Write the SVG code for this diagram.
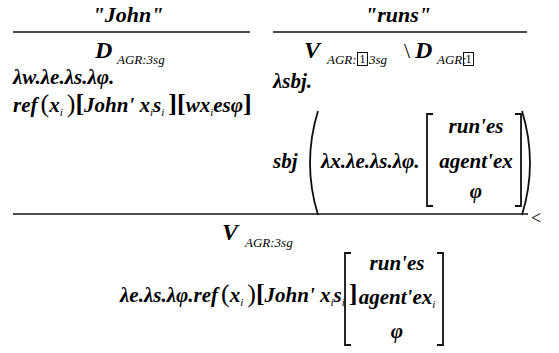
<svg xmlns="http://www.w3.org/2000/svg" width="559" height="353" viewBox="0 0 559 353">
<defs>
<path id="lbrk" d="M6,0 H0 V92 H6" fill="none" stroke="#111" stroke-width="1.8"/>
<path id="rbrk" d="M0,0 H6 V92 H0" fill="none" stroke="#111" stroke-width="1.8"/>
</defs>
<g id="john">
<text font-family="Times New Roman, serif" font-style="italic" font-weight="bold" font-size="22" text-anchor="middle" x="128" y="22">"John"</text>
<text font-family="Times New Roman, serif" font-style="italic" font-weight="bold" font-size="24" x="95" y="58">D</text>
<text font-family="Times New Roman, serif" font-style="italic" font-size="13" x="117" y="64">AGR:3sg</text>
<text font-family="Times New Roman, serif" font-style="italic" font-weight="bold" font-size="21" x="13" y="84">λw.λe.λs.λφ.</text>
<text font-family="Times New Roman, serif" font-style="italic" font-weight="bold" font-size="21" x="13" y="112">ref<tspan dx="3" font-style="normal" font-weight="normal" font-size="26">(</tspan>x<tspan font-size="11" font-weight="normal" dy="4">i</tspan><tspan dy="-4" dx="4" font-style="normal" font-weight="normal" font-size="26">)</tspan><tspan font-style="normal" font-size="26">[</tspan>John' x<tspan font-size="11" font-weight="normal" dy="4">i</tspan><tspan dy="-4">s</tspan><tspan font-size="11" font-weight="normal" dy="4">i</tspan><tspan dy="-4" dx="4" font-style="normal" font-size="26">][</tspan>wx<tspan font-size="11" font-weight="normal" dy="4">i</tspan><tspan dy="-4">esφ</tspan><tspan font-style="normal" font-size="26">]</tspan></text>
</g>
<g id="runs">
<text font-family="Times New Roman, serif" font-style="italic" font-weight="bold" font-size="22" text-anchor="middle" x="398" y="22">"runs"</text>
<text font-family="Times New Roman, serif" font-style="italic" font-weight="bold" font-size="24" x="304" y="58">V</text>
<text font-family="Times New Roman, serif" font-style="italic" font-size="13" x="327" y="64">AGR:</text>
<rect x="357.5" y="52.5" width="10" height="13" fill="none" stroke="#111" stroke-width="1"/>
<text font-family="Times New Roman, serif" font-size="12" text-anchor="middle" x="362.5" y="63">1</text>
<text font-family="Times New Roman, serif" font-style="italic" font-size="13" x="369" y="64">3sg</text>
<text font-family="Times New Roman, serif" font-size="22" x="404" y="58">\</text>
<text font-family="Times New Roman, serif" font-style="italic" font-weight="bold" font-size="24" x="415" y="58">D</text>
<text font-family="Times New Roman, serif" font-style="italic" font-size="13" x="437" y="64">AGR:</text>
<rect x="463.5" y="52.5" width="10" height="13" fill="none" stroke="#111" stroke-width="1"/>
<text font-family="Times New Roman, serif" font-size="12" text-anchor="middle" x="468.5" y="63">1</text>
<text font-family="Times New Roman, serif" font-style="italic" font-weight="bold" font-size="21" x="273" y="88">λsbj.</text>
<text font-family="Times New Roman, serif" font-style="italic" font-weight="bold" font-size="21" x="273" y="168">sbj</text>
<path d="M318,111 Q302,163 318,215" fill="none" stroke="#111" stroke-width="1.8"/>
<text font-family="Times New Roman, serif" font-style="italic" font-weight="bold" font-size="21" x="321" y="168">λx.λe.λs.λφ.</text>
<use href="#lbrk" x="427" y="114"/>
<text font-family="Times New Roman, serif" font-style="italic" font-weight="bold" font-size="21" text-anchor="middle" x="476" y="133">run'es</text>
<text font-family="Times New Roman, serif" font-style="italic" font-weight="bold" font-size="21" text-anchor="middle" x="476" y="168">agent'ex</text>
<text font-family="Times New Roman, serif" font-style="italic" font-weight="bold" font-size="21" text-anchor="middle" x="476" y="198">φ</text>
<use href="#rbrk" x="515" y="114"/>
<path d="M522,111 Q538,163 522,215" fill="none" stroke="#111" stroke-width="1.8"/>
</g>
<g id="connectors" stroke="#111" stroke-width="1.6">
<line x1="13" y1="32" x2="250" y2="32"/>
<line x1="273" y1="32" x2="527" y2="32"/>
<line x1="13" y1="214" x2="528" y2="214"/>
</g>
<g id="result">
<text font-family="Times New Roman, serif" font-size="18" x="531" y="224">&lt;</text>
<text font-family="Times New Roman, serif" font-style="italic" font-weight="bold" font-size="24" x="222" y="240">V</text>
<text font-family="Times New Roman, serif" font-style="italic" font-size="13" x="245" y="247">AGR:3sg</text>
<text font-family="Times New Roman, serif" font-style="italic" font-weight="bold" font-size="21" x="120" y="302">λe.λs.λφ.ref<tspan dx="3" font-style="normal" font-weight="normal" font-size="26">(</tspan>x<tspan font-size="11" font-weight="normal" dy="4">i</tspan><tspan dy="-4" dx="4" font-style="normal" font-weight="normal" font-size="26">)</tspan><tspan font-style="normal" font-size="26">[</tspan>John' x<tspan font-size="11" font-weight="normal" dy="4">i</tspan><tspan dy="-4">s</tspan><tspan font-size="11" font-weight="normal" dy="4">i</tspan><tspan dy="-4" dx="4" font-style="normal" font-size="26">]</tspan></text>
<use href="#lbrk" x="345" y="253"/>
<text font-family="Times New Roman, serif" font-style="italic" font-weight="bold" font-size="21" text-anchor="middle" x="397" y="270">run'es</text>
<text font-family="Times New Roman, serif" font-style="italic" font-weight="bold" font-size="21" text-anchor="middle" x="397" y="304">agent'ex<tspan font-size="11" font-weight="normal" dy="4">i</tspan></text>
<text font-family="Times New Roman, serif" font-style="italic" font-weight="bold" font-size="21" text-anchor="middle" x="397" y="338">φ</text>
<use href="#rbrk" x="437" y="253"/>
</g>
</svg>
